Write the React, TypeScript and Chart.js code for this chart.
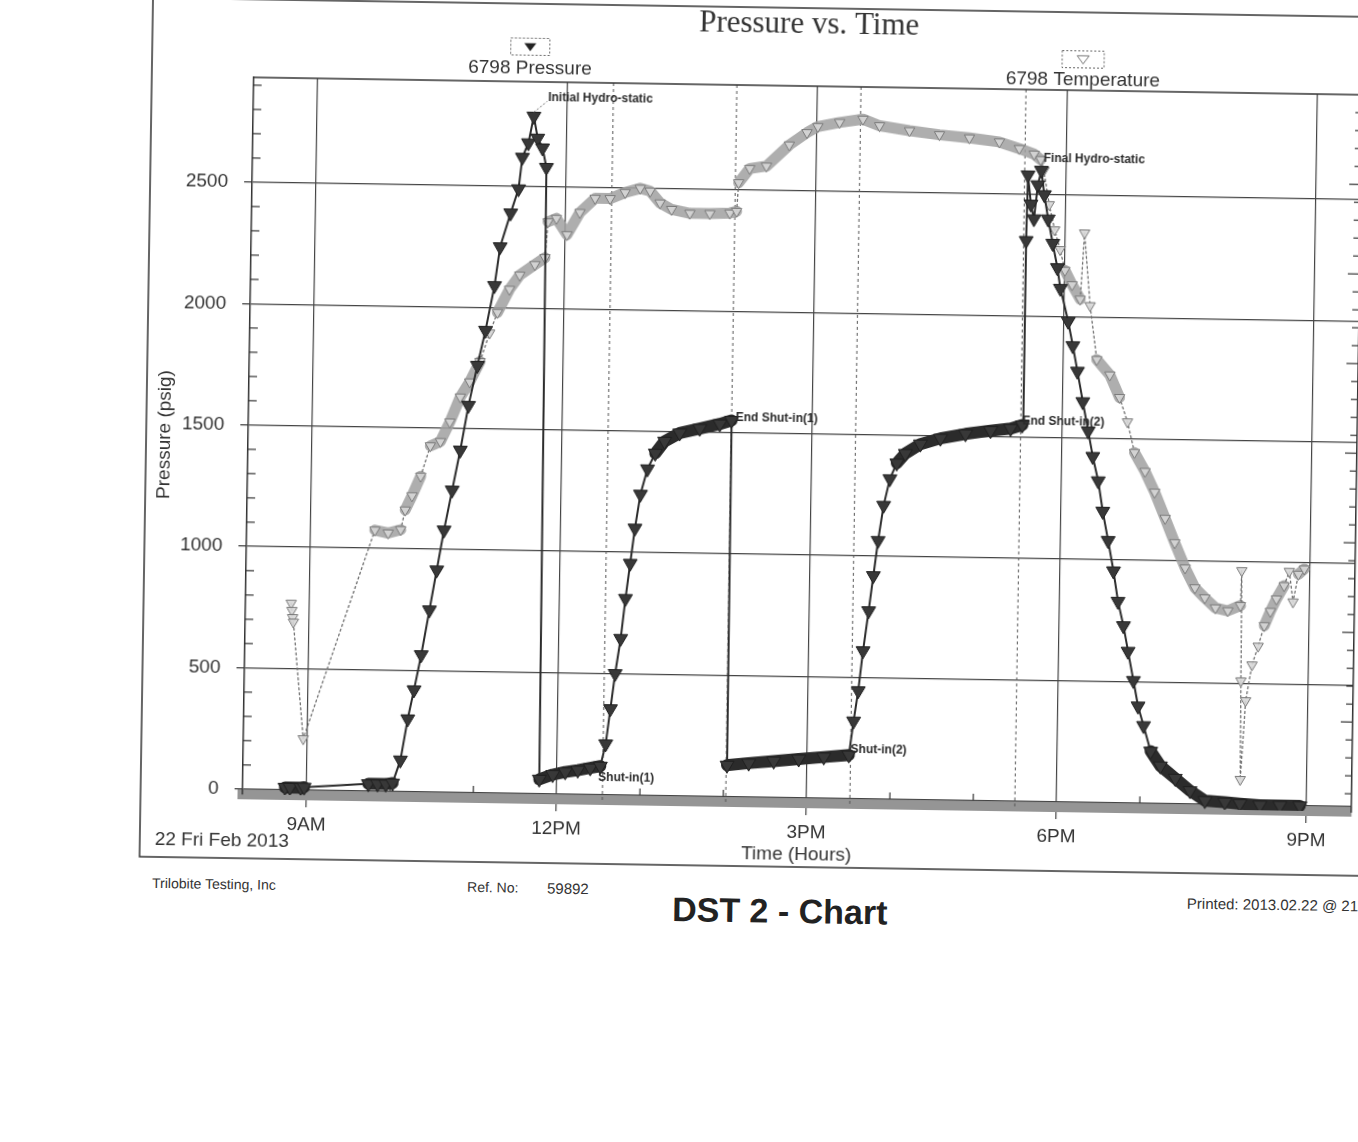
import React, { useEffect, useRef } from 'react';
import { Chart, registerables } from 'chart.js';

Chart.register(...registerables);

// ---------- data (time in hours of 22 Feb 2013, pressure in psig, temperature in °F) ----------
const pressureTimes = [
  8.74, 8.8, 8.93, 8.97, 9.74, 9.85, 9.95, 10.03,
  10.12, 10.2, 10.27, 10.35, 10.44, 10.52, 10.6, 10.69, 10.78, 10.87, 10.97, 11.06, 11.16, 11.22,
  11.34, 11.43, 11.47, 11.54, 11.6, 11.65, 11.71, 11.76,
  11.79, 11.95, 12.1, 12.25, 12.4, 12.52,
  12.58, 12.63, 12.68, 12.74, 12.79, 12.84, 12.89, 12.95, 13.03, 13.12, 13.23, 13.41, 13.65, 13.89, 14.03,
  14.04, 14.3, 14.6, 14.9, 15.2, 15.5,
  15.55, 15.6, 15.65, 15.71, 15.76, 15.81, 15.87, 15.94, 16.02, 16.12, 16.3, 16.54, 16.84, 17.14, 17.38, 17.52,
  17.53, 17.54, 17.58, 17.62, 17.66, 17.7, 17.74, 17.79, 17.85, 17.91, 17.95,
  18.05, 18.11, 18.17, 18.24, 18.31, 18.37, 18.44, 18.5, 18.57, 18.64, 18.7, 18.77, 18.83, 18.9, 18.96,
  19.03, 19.12, 19.24, 19.42, 19.6, 19.78, 20.02, 20.2, 20.44, 20.68, 20.92,
];
const pressureValues = [
  10, 10, 10, 12, 30, 30, 30, 35,
  130, 300, 420, 565, 750, 915, 1080, 1245, 1410, 1595, 1760, 1905, 2090, 2250,
  2390, 2490, 2620, 2680, 2790, 2700, 2660, 2580,
  60, 80, 92, 100, 110, 118,
  210, 355, 500, 645, 810, 955, 1100, 1240, 1345, 1410, 1460, 1495, 1515, 1535, 1550,
  130, 140, 150, 160, 170, 180,
  320, 445, 610, 775, 920, 1065, 1210, 1320, 1385, 1425, 1465, 1490, 1510, 1525, 1535, 1550,
  2310, 2580, 2460, 2400, 2540, 2600, 2500, 2400, 2300, 2200, 2115,
  1980, 1880, 1775, 1650, 1530, 1425, 1325, 1200, 1080, 955, 830, 730, 625, 505, 400,
  320, 215, 155, 105, 55, 15, 10, 5, 0, 0, 0,
];
const temperatureTimes = [
  8.78, 8.79, 8.8, 8.81, 8.95, 9.77, 9.93, 10.08, 10.13, 10.21, 10.31, 10.42, 10.54, 10.65, 10.77, 10.88,
  11.0, 11.11, 11.2, 11.34, 11.46, 11.64, 11.76, 11.79, 11.89, 12.02, 12.17, 12.35, 12.53, 12.71, 12.89,
  13.01, 13.13, 13.27, 13.49, 13.73, 13.97, 14.05, 14.07, 14.2, 14.4, 14.67, 14.88, 15.01, 15.27, 15.55,
  15.75, 16.11, 16.47, 16.83, 17.19, 17.43, 17.61, 17.69, 17.73, 17.8, 17.87, 17.94, 18.0, 18.09, 18.19,
  18.23, 18.31, 18.4, 18.56, 18.68, 18.78, 18.87, 19.0, 19.12, 19.25, 19.37, 19.5, 19.62, 19.74, 19.87,
  20.02, 20.17, 20.18, 20.19, 20.2, 20.25, 20.32, 20.39, 20.46, 20.53, 20.6, 20.69, 20.75, 20.8, 20.86, 20.93,
];
const temperatureValues = [
  71.4, 70.6, 69.8, 69.3, 56.3, 79.7, 79.4, 79.8, 82.0, 83.6, 85.8, 89.2, 89.7, 91.9, 94.7, 96.4,
  98.7, 101.9, 104.2, 106.8, 108.4, 109.6, 110.4, 114.4, 114.8, 113.0, 115.5, 117.1, 117.1, 117.8, 118.3,
  118.0, 116.7, 116.0, 115.6, 115.6, 115.7, 115.9, 119.1, 120.7, 121.0, 123.4, 124.8, 125.5, 126.0, 126.4,
  125.7, 125.2, 124.8, 124.5, 124.1, 123.4, 122.8, 122.2, 121.0, 117.2, 114.4, 112.2, 109.9, 108.3, 106.7,
  114.1, 106.0, 100.0, 98.3, 95.8, 93.1, 89.7, 87.6, 85.3, 82.4, 79.7, 76.9, 74.7, 73.6, 72.5,
  72.2, 72.8, 76.7, 64.4, 53.4, 62.2, 66.2, 68.3, 70.6, 72.2, 73.6, 75.1, 76.7, 73.3, 76.4, 77.0,
];

const timeTicks = [9, 12, 15, 18, 21];
const timeTickLabels = ['9AM', '12PM', '3PM', '6PM', '9PM'];
const pressureTicks = [0, 500, 1000, 1500, 2000, 2500];
const eventTimes = [12.55, 14.03, 15.52, 17.5];
const annotationTexts = ['Initial Hydro-static', 'Shut-in(1)', 'End Shut-in(1)', 'Shut-in(2)', 'End Shut-in(2)', 'Final Hydro-static'];
const annotationTimes = [11.6, 12.52, 14.03, 15.52, 17.52, 17.7];
const annotationValues = [2790, 118, 1550, 180, 1550, 2600];

const SANS = '"Liberation Sans", Arial, Helvetica, sans-serif';
const SERIF = '"Liberation Serif", "Times New Roman", serif';
const INK = '#333';

// ---------- styling helpers ----------
const annotationOffsets = [[14, -19], [-2, 11], [4, -3], [0, -6], [0, -4], [2, -12]];

function segInfo(ctx: any) {
  const dx = Math.abs(ctx.p1.x - ctx.p0.x);
  const dy = Math.abs(ctx.p1.y - ctx.p0.y);
  return { dx, dy, slope: dx > 0 ? dy / dx : 999 };
}
const pressureBand = (ctx: any) => {
  const s = segInfo(ctx);
  return s.dx > 3 && s.dx < 30 && s.slope < 1.5;
};
const temperatureBand = (ctx: any) => {
  const s = segInfo(ctx);
  return s.dx >= 3 && s.slope < 2.6;
};

function triangle(ctx: CanvasRenderingContext2D, cx: number, cy: number, r: number, filled: boolean) {
  ctx.beginPath();
  ctx.moveTo(cx - r, cy - r * 0.6);
  ctx.lineTo(cx + r, cy - r * 0.6);
  ctx.lineTo(cx, cy + r * 0.75);
  ctx.closePath();
  if (filled) {
    ctx.fillStyle = '#222';
    ctx.fill();
  } else {
    ctx.strokeStyle = '#777';
    ctx.lineWidth = 1;
    ctx.stroke();
  }
}

const decorPlugin = {
  id: 'decor',
  beforeDatasetsDraw(chart: any) {
    const { ctx, chartArea: ca, scales } = chart;
    const x = scales.x, y = scales.y, y2 = scales.y2;
    const line = (x1: number, y1: number, x2: number, y2p: number) => {
      ctx.beginPath(); ctx.moveTo(x1, y1); ctx.lineTo(x2, y2p); ctx.stroke();
    };
    ctx.save();
    // event markers (dashed verticals)
    ctx.strokeStyle = '#555';
    ctx.lineWidth = 1;
    ctx.setLineDash([3, 3]);
    eventTimes.forEach((t) => {
      const px = x.getPixelForValue(t);
      line(px, ca.top, px, ca.bottom);
    });
    ctx.setLineDash([]);
    // top border of plot
    ctx.strokeStyle = INK;
    ctx.lineWidth = 1.5;
    line(ca.left, ca.top, ca.right, ca.top);
    // minor ticks (inward)
    ctx.lineWidth = 1.2;
    for (let v = 100; v < y.max; v += 100) {
      if (v % 500 === 0) continue;
      const py = y.getPixelForValue(v);
      line(ca.left, py, ca.left + 8, py);
    }
    for (let f = 52; f < y2.max; f += 2) {
      const py = y2.getPixelForValue(f);
      line(ca.right - (f % 10 === 0 ? 12 : 7), py, ca.right, py);
    }
    for (let h = Math.ceil(x.min); h <= x.max; h++) {
      if (h % 3 === 0) continue;
      const px = x.getPixelForValue(h);
      line(px, ca.bottom - 5, px, ca.bottom - 12);
    }
    ctx.restore();
  },
  afterDraw(chart: any) {
    const { ctx, scales } = chart;
    const x = scales.x, y = scales.y;
    ctx.save();
    // outer frame
    ctx.strokeStyle = INK;
    ctx.lineWidth = 1.5;
    ctx.beginPath();
    ctx.moveTo(chart.width, 8);
    ctx.lineTo(6, 8);
    ctx.lineTo(6, 867);
    ctx.lineTo(chart.width, 867);
    ctx.stroke();

    // annotations
    ctx.fillStyle = '#2a2a2a';
    ctx.font = `bold 12px ${SANS}`;
    ctx.textAlign = 'left';
    ctx.textBaseline = 'middle';
    annotationTexts.forEach((txt, i) => {
      const ax = x.getPixelForValue(annotationTimes[i]);
      const ay = y.getPixelForValue(annotationValues[i]);
      const [ox, oy] = annotationOffsets[i];
      ctx.fillText(txt, ax + ox, ay + oy);
      if (i === 0) {
        ctx.strokeStyle = '#666';
        ctx.lineWidth = 1;
        ctx.setLineDash([2, 2]);
        ctx.beginPath();
        ctx.moveTo(ax, ay - 4);
        ctx.lineTo(ax + ox - 1, ay + oy + 4);
        ctx.stroke();
        ctx.setLineDash([]);
      }
    });

    // legend
    const legend = [
      { cx: 384, cy: 51, w: 39, ty: 73, filled: true },
      { cx: 937, cy: 55, w: 42, ty: 76, filled: false },
    ];
    legend.forEach((l, i) => {
      ctx.strokeStyle = '#666';
      ctx.lineWidth = 1;
      ctx.setLineDash([2, 2]);
      ctx.strokeRect(l.cx - l.w / 2, l.cy - 8.5, l.w, 17);
      ctx.setLineDash([]);
      triangle(ctx, l.cx, l.cy, 6, l.filled);
      ctx.fillStyle = INK;
      ctx.font = `19px ${SANS}`;
      ctx.textAlign = 'center';
      ctx.textBaseline = 'middle';
      ctx.fillText(chart.data.datasets[i].label, l.cx, l.ty);
    });

    // date stamp
    ctx.fillStyle = INK;
    ctx.font = `19px ${SANS}`;
    ctx.textAlign = 'center';
    ctx.fillText('22 Fri Feb 2013', 88, 850);
    ctx.restore();
  },
};

export default function App() {
  const canvasRef = useRef<HTMLCanvasElement>(null);

  useEffect(() => {
    document.documentElement.style.overflow = 'hidden';
    Chart.defaults.font.family = SANS;
    Chart.defaults.color = INK;
    const canvas = canvasRef.current;
    if (!canvas) return;

    const pressureData = pressureTimes.map((t, i) => ({ x: t, y: pressureValues[i] }));
    const temperatureData = temperatureTimes.map((t, i) => ({ x: t, y: temperatureValues[i] }));

    const chart = new Chart(canvas, {
      type: 'line',
      data: {
        datasets: [
          {
            label: '6798 Pressure',
            data: pressureData,
            yAxisID: 'y',
            borderColor: '#2b2b2b',
            backgroundColor: '#333',
            borderWidth: 2,
            borderCapStyle: 'round',
            borderJoinStyle: 'round',
            tension: 0,
            pointStyle: 'triangle',
            pointRotation: 180,
            pointRadius: 8,
            pointBackgroundColor: '#383838',
            pointBorderColor: '#1f1f1f',
            pointBorderWidth: 1,
            segment: {
              borderWidth: (ctx: any) => (pressureBand(ctx) ? 12 : 2),
            },
          } as any,
          {
            label: '6798 Temperature',
            data: temperatureData,
            yAxisID: 'y2',
            borderColor: '#aaa',
            backgroundColor: '#ccc',
            borderWidth: 11,
            borderCapStyle: 'round',
            borderJoinStyle: 'round',
            tension: 0,
            pointStyle: 'triangle',
            pointRotation: 180,
            pointRadius: 6,
            pointBackgroundColor: 'rgba(215,215,215,0.9)',
            pointBorderColor: '#7a7a7a',
            pointBorderWidth: 1,
            segment: {
              borderWidth: (ctx: any) => (temperatureBand(ctx) ? 11 : 1.3),
              borderDash: (ctx: any) => (temperatureBand(ctx) ? [] : [2, 3]),
              borderColor: (ctx: any) => (temperatureBand(ctx) ? 'rgba(160,160,160,0.85)' : '#6f6f6f'),
            },
          } as any,
        ],
      },
      options: {
        responsive: false,
        animation: false,
        devicePixelRatio: 1,
        layout: { padding: 0 },
        plugins: {
          legend: { display: false },
          tooltip: { enabled: false },
          title: {
            display: true,
            text: 'Pressure vs. Time',
            fullSize: false,
            color: INK,
            font: { family: SERIF, size: 31, weight: 'normal' },
            padding: { top: 6.4, bottom: 42.4 },
          },
        },
        scales: {
          x: {
            type: 'linear',
            min: 8.232,
            max: 21.54,
            afterFit: (s: any) => { s.height = 69; },
            afterBuildTicks: (s: any) => { s.ticks = timeTicks.map((v) => ({ value: v })); },
            ticks: {
              font: { size: 19, family: SANS },
              color: INK,
              padding: 6.6,
              maxRotation: 0,
              autoSkip: false,
              callback: (v: any) => {
                const i = timeTicks.indexOf(Number(v));
                return i >= 0 ? timeTickLabels[i] : '';
              },
            },
            grid: { color: '#444', lineWidth: 1.2, tickLength: 12, tickColor: '#444' },
            border: { display: true, color: 'rgba(130,130,130,0.85)', width: 10 },
            title: {
              display: true,
              text: 'Time (Hours)',
              color: INK,
              font: { size: 19, family: SANS },
              padding: { top: 0, bottom: 5.6 },
            },
          },
          y: {
            type: 'linear',
            position: 'left',
            min: -21,
            max: 2932,
            afterFit: (s: any) => { s.width = 108; },
            afterBuildTicks: (s: any) => { s.ticks = pressureTicks.map((v) => ({ value: v })); },
            ticks: {
              font: { size: 19, family: SANS },
              color: INK,
              padding: 16,
              callback: (v: any) => String(v),
            },
            grid: { color: '#444', lineWidth: 1.2, tickLength: 8, tickColor: '#333' },
            border: { display: true, color: INK, width: 1.5 },
            title: {
              display: true,
              text: 'Pressure (psig)',
              color: INK,
              font: { size: 19, family: SANS },
              padding: { top: 13.6, bottom: 0 },
            },
          },
          y2: {
            type: 'linear',
            position: 'right',
            min: 50,
            max: 130,
            afterFit: (s: any) => { s.width = 283; },
            ticks: { stepSize: 10, font: { size: 19, family: SANS }, color: INK },
            grid: { display: false, drawOnChartArea: false },
            border: { display: true, color: INK, width: 1.5 },
            title: { display: true, text: 'Temperature (°F)', color: INK, font: { size: 19, family: SANS } },
          },
        },
      } as any,
      plugins: [decorPlugin],
    });

    return () => chart.destroy();
  }, []);

  const text = (s: React.CSSProperties): React.CSSProperties => ({
    position: 'absolute',
    whiteSpace: 'nowrap',
    lineHeight: 1,
    fontFamily: SANS,
    color: INK,
    ...s,
  });

  return (
    <div style={{ position: 'absolute', left: 0, top: 0, width: 1358, height: 1142, overflow: 'hidden', background: '#fff' }}>
      <div
        style={{
          position: 'absolute',
          left: 0,
          top: 0,
          width: 1358,
          height: 1142,
          transform: 'rotate(0.9deg)',
          transformOrigin: '800px 450px',
        }}
      >
        <canvas
          ref={canvasRef}
          width={1500}
          height={872}
          style={{ position: 'absolute', left: 140, top: 0, width: 1500, height: 872 }}
        />
        <div style={text({ left: 159, top: 893, fontSize: 14, transform: 'translateY(-50%)' })}>Trilobite Testing, Inc</div>
        <div style={text({ left: 474, top: 892, fontSize: 14, transform: 'translateY(-50%)' })}>Ref. No:</div>
        <div style={text({ left: 554, top: 892, fontSize: 15, transform: 'translateY(-50%)' })}>59892</div>
        <div style={text({ left: 787, top: 911, fontSize: 34, fontWeight: 'bold', color: '#222', transform: 'translate(-50%, -50%)' })}>
          DST 2 - Chart
        </div>
        <div style={text({ left: 1194, top: 897, fontSize: 15, transform: 'translateY(-50%)' })}>Printed: 2013.02.22 @ 21</div>
      </div>
    </div>
  );
}
